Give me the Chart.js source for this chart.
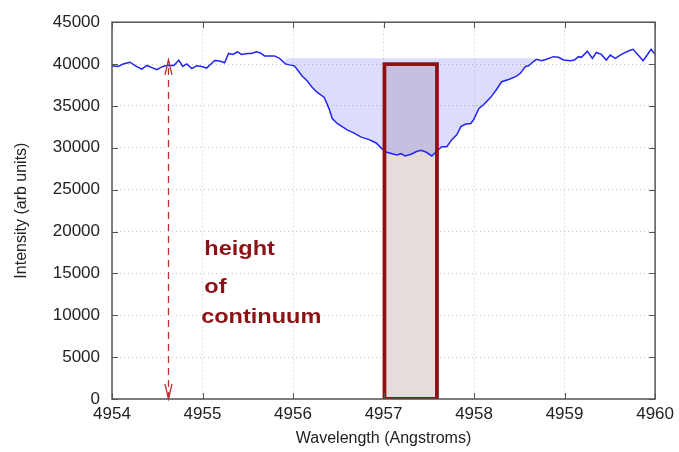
<!DOCTYPE html>
<html>
<head>
<meta charset="utf-8">
<script src="https://cdn.jsdelivr.net/npm/chart.js@4.4.1/dist/chart.umd.min.js"></script>
<style>
  html, body { margin: 0; padding: 0; background: #fff; }
</style>
</head>
<body>
<canvas id="chart" width="679" height="452"></canvas>
<script>
// spectrum
const wavelength = [
  4954.000, 4954.066, 4954.132, 4954.198, 4954.264, 4954.330, 4954.385, 4954.440, 4954.495, 4954.562,
  4954.617, 4954.683, 4954.738, 4954.782, 4954.826, 4954.881, 4954.936, 4954.991, 4955.046, 4955.134,
  4955.189, 4955.244, 4955.288, 4955.332, 4955.387, 4955.431, 4955.497, 4955.541, 4955.596, 4955.640,
  4955.685, 4955.795, 4955.850, 4955.916, 4955.960, 4956.015, 4956.048, 4956.103, 4956.158, 4956.213,
  4956.268, 4956.345, 4956.400, 4956.433, 4956.488, 4956.543, 4956.598, 4956.675, 4956.753, 4956.841,
  4956.918, 4956.973, 4957.028, 4957.094, 4957.149, 4957.193, 4957.237, 4957.303, 4957.358, 4957.413,
  4957.468, 4957.534, 4957.589, 4957.644, 4957.699, 4957.754, 4957.809, 4957.854, 4957.909, 4957.964,
  4957.997, 4958.052, 4958.107, 4958.184, 4958.250, 4958.305, 4958.382, 4958.470, 4958.514, 4958.569,
  4958.602, 4958.657, 4958.690, 4958.745, 4958.800, 4958.877, 4958.933, 4958.988, 4959.065, 4959.109,
  4959.153, 4959.186, 4959.252, 4959.307, 4959.351, 4959.406, 4959.461, 4959.505, 4959.560, 4959.637,
  4959.725, 4959.758, 4959.868, 4959.956, 4960.000
];
const intensity = [
  39812, 39719, 40045, 40220, 39754, 39404, 39835, 39579, 39323, 39719,
  39870, 39835, 40453, 39719, 40022, 39462, 39789, 39719, 39521, 40418,
  40372, 40162, 41269, 41153, 41444, 41153, 41269, 41269, 41468, 41328,
  40978, 40978, 40686, 40022, 39905, 39789, 39323, 38553, 37970, 37189,
  36606, 36023, 34624, 33494, 32910, 32526, 32141, 31745, 31278, 30975,
  30579, 29996, 29495, 29297, 29145, 29297, 29028, 29227, 29530, 29693,
  29495, 29028, 29611, 30136, 30136, 30975, 31559, 32526, 32841, 32910,
  33377, 34659, 35172, 36023, 36991, 37889, 38157, 38553, 38938, 39719,
  39789, 40302, 40570, 40395, 40570, 40885, 40803, 40488, 40395, 40488,
  40885, 40803, 41537, 40686, 41386, 41153, 40488, 41071, 40686, 41211,
  41654, 41759, 40395, 41771, 41153
];

// equivalent-width illustration
const continuumLevel = 40700;
const shadeRange = [4955.90, 4958.70];
const boxX = [4957.01, 4957.01, 4957.59, 4957.59, 4957.01];
const boxY = [0, 40000, 40000, 0, 0];
const boxTopX = [4957.01, 4957.59];
const boxTop = 40000;
const arrowX = 4954.624;
const arrowY = [0, 40500];

const noteText = ["height", "of", "continuum"];
const noteX = [4955.02, 4955.02, 4954.985];
const noteY = [17250, 12700, 9100];

const xTicks = [4954, 4955, 4956, 4957, 4958, 4959, 4960];
const yTicks = [0, 5000, 10000, 15000, 20000, 25000, 30000, 35000, 40000, 45000];

const spectrum = wavelength.map((w, i) => ({ x: w, y: intensity[i] }));
const shade = spectrum.filter(p => p.x >= shadeRange[0] && p.x <= shadeRange[1]);
const boxOutline = boxX.map((v, i) => ({ x: v, y: boxY[i] }));
const boxFill = boxTopX.map(v => ({ x: v, y: boxTop }));
const arrow = arrowY.map(v => ({ x: arrowX, y: v }));

const FONT = "'Liberation Sans', Arial, Helvetica, sans-serif";
const DARK_RED = "#8c1216";

const decor = {
  id: "decor",
  afterDatasetsDraw(chart) {
    const { ctx, chartArea: a, scales: { x, y } } = chart;
    ctx.save();

    // gnuplot-style inward ticks on every side
    ctx.strokeStyle = "#555";
    ctx.lineWidth = 1;
    ctx.beginPath();
    xTicks.forEach(v => {
      const px = Math.round(x.getPixelForValue(v)) + 0.5;
      ctx.moveTo(px, a.bottom); ctx.lineTo(px, a.bottom - 6);
      ctx.moveTo(px, a.top); ctx.lineTo(px, a.top + 6);
    });
    yTicks.forEach(v => {
      const py = Math.round(y.getPixelForValue(v)) + 0.5;
      ctx.moveTo(a.left, py); ctx.lineTo(a.left + 6, py);
      ctx.moveTo(a.right, py); ctx.lineTo(a.right - 6, py);
    });
    ctx.stroke();

    // frame
    ctx.lineWidth = 1.5;
    ctx.strokeStyle = "#555";
    ctx.strokeRect(a.left, a.top, a.right - a.left, a.bottom - a.top);

    // arrow heads (open V)
    const ax = x.getPixelForValue(arrowX);
    const top = y.getPixelForValue(arrowY[1]);
    const bot = y.getPixelForValue(arrowY[0]);
    ctx.strokeStyle = "#b83232";
    ctx.lineWidth = 1.3;
    ctx.beginPath();
    ctx.moveTo(ax - 3.5, top + 15); ctx.lineTo(ax, top); ctx.lineTo(ax + 3.5, top + 15);
    ctx.moveTo(ax - 3.5, bot - 15); ctx.lineTo(ax, bot); ctx.lineTo(ax + 3.5, bot - 15);
    ctx.stroke();

    // notes
    ctx.fillStyle = DARK_RED;
    ctx.font = "bold 21px " + FONT;
    ctx.textAlign = "left";
    ctx.textBaseline = "alphabetic";
    noteText.forEach((t, i) => {
      ctx.save();
      ctx.translate(x.getPixelForValue(noteX[i]), y.getPixelForValue(noteY[i]));
      ctx.scale(1.12, 1);
      ctx.fillText(t, 0, 0);
      ctx.restore();
    });

    ctx.restore();
  }
};

new Chart(document.getElementById("chart"), {
  type: "line",
  data: {
    datasets: [
      {
        // box outline, on top of everything
        data: boxOutline,
        borderColor: DARK_RED,
        borderWidth: 3.8,
        fill: false,
        pointRadius: 0,
        order: 0
      },
      {
        data: arrow,
        borderColor: "#b83232",
        borderWidth: 1.3,
        borderDash: [7, 5],
        fill: false,
        pointRadius: 0,
        order: 1
      },
      {
        data: spectrum,
        borderColor: "#2424f2",
        borderWidth: 1.5,
        fill: false,
        pointRadius: 0,
        order: 2
      },
      {
        data: shade,
        borderWidth: 0,
        borderColor: "rgba(0,0,0,0)",
        backgroundColor: "rgba(60,60,240,0.18)",
        fill: { value: continuumLevel },
        pointRadius: 0,
        order: 3
      },
      {
        data: boxFill,
        borderWidth: 0,
        borderColor: "rgba(0,0,0,0)",
        backgroundColor: "#e6dcdc",
        fill: "origin",
        pointRadius: 0,
        order: 4
      }
    ]
  },
  options: {
    responsive: false,
    animation: false,
    parsing: false,
    layout: { padding: { top: 13, right: 22, left: 0, bottom: 0 } },
    plugins: {
      legend: { display: false },
      tooltip: { enabled: false },
      filler: { drawTime: "beforeDatasetsDraw" }
    },
    elements: { line: { tension: 0 } },
    scales: {
      x: {
        type: "linear",
        min: 4954,
        max: 4960,
        afterBuildTicks: s => { s.ticks = xTicks.map(v => ({ value: v })); },
        afterFit: s => { s.height = 53; },
        ticks: {
          color: "#222",
          font: { family: FONT, size: 17 },
          padding: 5,
          maxRotation: 0,
          callback: v => String(v)
        },
        grid: { color: "#c8c8c8", lineWidth: 1, drawTicks: false },
        border: { display: false, dash: [1, 3] },
        title: {
          display: true,
          text: "Wavelength (Angstroms)",
          color: "#222",
          font: { family: FONT, size: 16 },
          padding: { top: 0, bottom: 4 }
        }
      },
      y: {
        type: "linear",
        min: 0,
        max: 45000,
        afterBuildTicks: s => { s.ticks = yTicks.map(v => ({ value: v })); },
        afterFit: s => { s.width = 112; },
        ticks: {
          color: "#222",
          font: { family: FONT, size: 17 },
          padding: 12,
          callback: v => String(v)
        },
        grid: { color: "#c8c8c8", lineWidth: 1, drawTicks: false },
        border: { display: false, dash: [1, 3] },
        title: {
          display: true,
          text: "Intensity (arb units)",
          color: "#222",
          font: { family: FONT, size: 16 },
          padding: { top: 12, bottom: 0 }
        }
      }
    }
  },
  plugins: [decor]
});
</script>
</body>
</html>
